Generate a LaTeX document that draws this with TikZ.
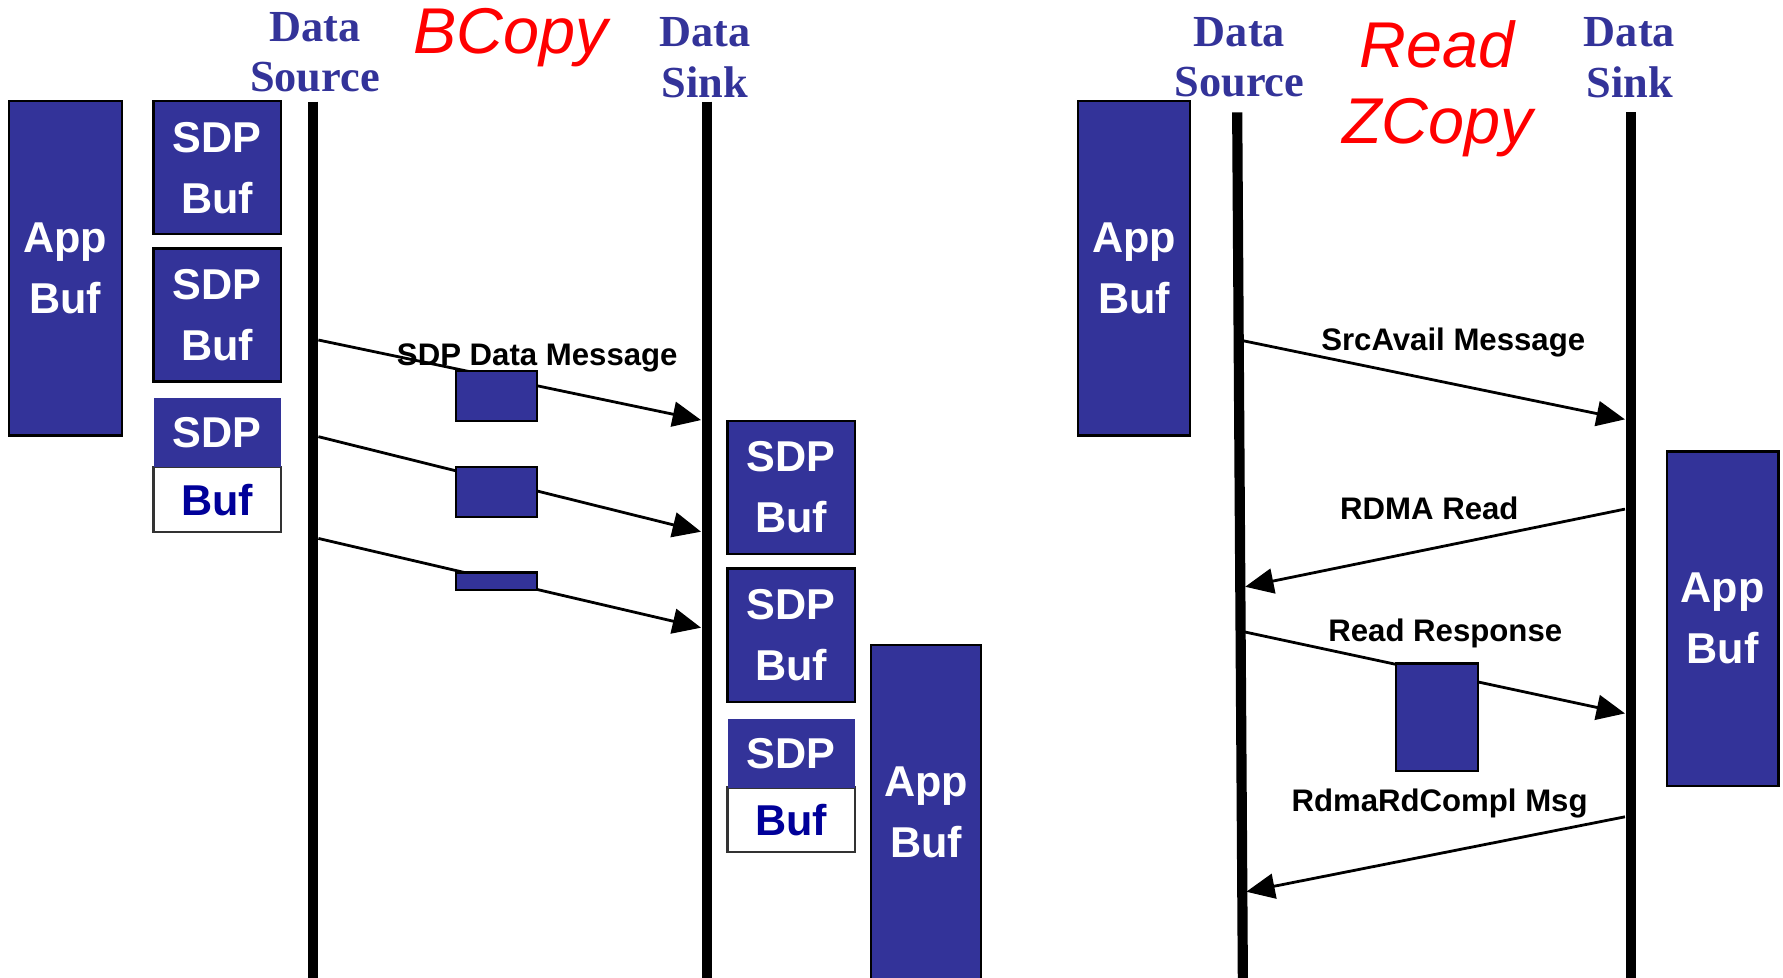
\documentclass[tikz,border=0pt]{standalone}
\usepackage{fontspec}
\setmainfont{Liberation Serif}
\setsansfont{Liberation Sans}
\usetikzlibrary{arrows.meta}
\definecolor{bufblue}{RGB}{51,51,153}
\definecolor{bufdark}{RGB}{0,0,153}
\tikzset{
  boxfont/.style={font=\sffamily\bfseries\fontsize{21.6}{30.5}\selectfont},
  appbuf/.style={rectangle,draw=black,fill=bufblue,line width=1.1pt,inner sep=0,
    minimum width=1.98cm,minimum height=5.88cm,text=white,align=center,boxfont},
  sdpbuf/.style={appbuf,minimum width=2.24cm,minimum height=2.34cm},
  sdptop/.style={rectangle,fill=bufblue,inner sep=0,minimum width=2.24cm,
    minimum height=1.22cm,text=white,boxfont},
  sdpbot/.style={rectangle,draw=black!80,fill=white,line width=1.1pt,inner sep=0,
    minimum width=2.24cm,minimum height=1.14cm,text=bufdark,boxfont},
  pkt/.style={rectangle,draw=black,fill=bufblue,line width=1.1pt,inner sep=0,minimum width=1.42cm},
  life/.style={line width=5.1pt},
  msg/.style={line width=1.4pt,-{Triangle[length=0.5cm,width=0.44cm]}},
  msglabel/.style={anchor=base,inner sep=0,font=\sffamily\bfseries\fontsize{15.6}{18}\selectfont},
  party/.style={text=bufblue,align=center,inner sep=0,font=\bfseries\fontsize{22.2}{25.3}\selectfont},
  mode/.style={text=red,align=center,inner sep=0,font=\sffamily\itshape\fontsize{32.4}{37.9}\selectfont}
}
\begin{document}
\begin{tikzpicture}[x=0.02cm,y=-0.02cm]
  \useasboundingbox (0,0) rectangle (1568,860);

  % BCopy
  \node [party] (srcL) at (277,45.8) {Data\\Source};
  \node [party] (snkL) at (620,50.5) {Data\\Sink};
  \node [mode,anchor=base] (bcopy) at (449,47) {BCopy};

  \node [appbuf] (appL) at (57.5,236) {App\\Buf};
  \node [sdpbuf] (srcBufA) at (191,147.5) {SDP\\Buf};
  \node [sdpbuf] (srcBufB) at (191,277) {SDP\\Buf};
  \node [sdpbot] (srcBufCb) at (191,439.5) {Buf};
  \node [sdptop] (srcBufCt) at (191,380.5) {SDP};

  \node [sdpbuf] (snkBufA) at (695.8,428.5) {SDP\\Buf};
  \node [sdpbuf] (snkBufB) at (695.8,558.5) {SDP\\Buf};
  \node [sdpbot] (snkBufCb) at (695.8,721) {Buf};
  \node [sdptop] (snkBufCt) at (695.8,662.5) {SDP};
  \node [appbuf,minimum width=1.94cm,minimum height=5.9cm] (appS) at (814.5,714.5) {App\\Buf};

  \coordinate (srcTopL) at (275.5,89.4);
  \coordinate (srcBotL) at (275.5,862);
  \coordinate (snkTopL) at (621.5,89.4);
  \coordinate (snkBotL) at (621.5,862);
  \draw [life] (srcTopL) -- (srcBotL);
  \draw [life] (snkTopL) -- (snkBotL);

  \foreach \i/\a/\b/\c/\h in {1/299/369.4/348/0.88cm,2/384/467.6/433/0.88cm,3/473.5/552/511.2/0.31cm}{
    \coordinate (out\i) at (280,\a);
    \coordinate (in\i) at (616.5,\b);
    \draw [msg] (out\i) -- (in\i);
    \node [pkt,minimum height=\h] (pkt\i) at (436.5,\c) {};
  }
  \node [msglabel] (dataMsg) at (472.5,321) {SDP Data Message};

  % Read ZCopy
  \node [party] (srcR) at (1090,50.5) {Data\\Source};
  \node [party] (snkR) at (1433,50.5) {Data\\Sink};
  \node [mode] (zcopy) at (1264,78) {Read\\ZCopy};

  \node [appbuf] (appR) at (997.2,236) {App\\Buf};
  \node [appbuf,minimum width=1.96cm] (appRs) at (1515,544) {App\\Buf};

  \coordinate (srcTopR) at (1088,98.8);
  \coordinate (srcBotR) at (1093,862);
  \coordinate (snkTopR) at (1434,98.8);
  \coordinate (snkBotR) at (1434,862);
  \draw [life] (srcTopR) -- (srcBotR);
  \draw [life] (snkTopR) -- (snkBotR);

  \coordinate (availOut) at (1093,299.6);
  \coordinate (availIn) at (1429,368.8);
  \coordinate (rdOut) at (1429,447.7);
  \coordinate (rdIn) at (1095,516);
  \coordinate (respOut) at (1094,555.6);
  \coordinate (respIn) at (1429,627.4);
  \coordinate (complOut) at (1429,718.3);
  \coordinate (complIn) at (1096,784.2);
  \draw [msg] (availOut) -- (availIn);
  \draw [msg] (rdOut) -- (rdIn);
  \draw [msg] (respOut) -- (respIn);
  \draw [msg] (complOut) -- (complIn);
  \node [pkt,minimum width=1.44cm,minimum height=1.89cm] (respPkt) at (1263.6,630.7) {};

  \node [msglabel] (availMsg) at (1278,307.8) {SrcAvail Message};
  \node [msglabel] (rdMsg) at (1257,457) {RDMA Read};
  \node [msglabel] (respMsg) at (1271,564.3) {Read Response};
  \node [msglabel] (complMsg) at (1266,713.9) {RdmaRdCompl Msg};
\end{tikzpicture}
\end{document}
